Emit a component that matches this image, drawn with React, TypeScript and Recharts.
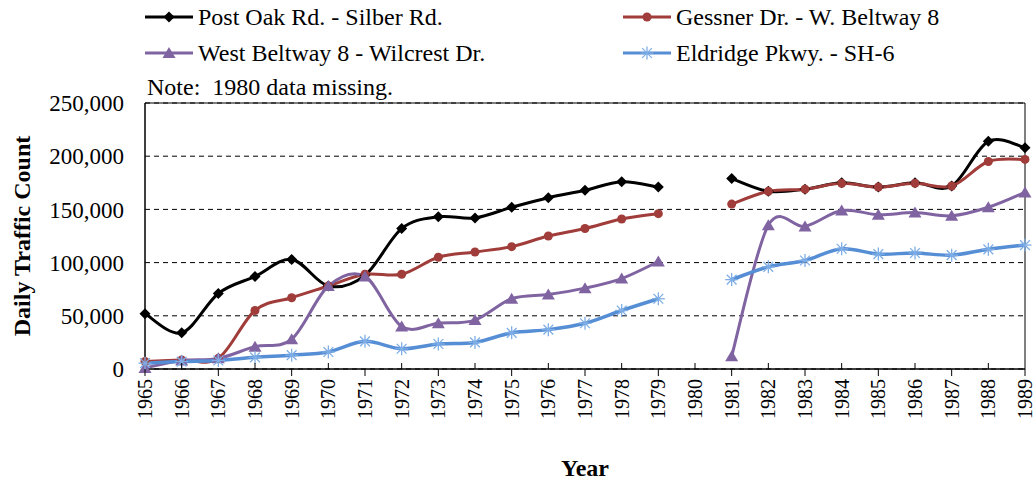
import { LineChart, Line, XAxis, YAxis, CartesianGrid, Legend, ReferenceArea } from 'recharts';

const years = [
  1965, 1966, 1967, 1968, 1969, 1970, 1971, 1972, 1973, 1974, 1975, 1976, 1977,
  1978, 1979, 1980, 1981, 1982, 1983, 1984, 1985, 1986, 1987, 1988, 1989,
];

// 1980 is missing in the source data
const postOak = [
  52000, 34000, 71000, 87000, 103000, 78000, 88000, 132000, 143000, 142000, 152000, 161000, 168000,
  176000, 171000, null, 179000, 167000, 169000, 175000, 171000, 175000, 172000, 214000, 208000,
];
const gessner = [
  7000, 8500, 10000, 55000, 67000, 78000, 89000, 89000, 105000, 110000, 115000, 125000, 132000,
  141000, 146000, null, 155000, 167000, 169000, 174500, 171000, 174500, 172000, 195000, 197000,
];
const westBeltway = [
  1000, 8000, 10000, 21000, 28000, 78000, 87000, 40000, 43000, 46000, 66000, 70000, 76000,
  85000, 101000, null, 12000, 135000, 134000, 149000, 145000, 147000, 144000, 152000, 166000,
];
const eldridge = [
  5500, 7000, 8000, 11000, 13000, 16000, 26000, 19000, 23500, 25000, 34000, 37000, 43000,
  55000, 66000, null, 84000, 96000, 102000, 113000, 108000, 109000, 107000, 112500, 116500,
];

const yTicks = [0, 50000, 100000, 150000, 200000, 250000];

const keys = ['postOak', 'gessner', 'westBeltway', 'eldridge'] as const;

const seriesNames = {
  postOak: 'Post Oak Rd. - Silber Rd.',
  gessner: 'Gessner Dr. - W. Beltway 8',
  westBeltway: 'West Beltway 8 - Wilcrest Dr.',
  eldridge: 'Eldridge Pkwy. - SH-6',
};

const colors = {
  postOak: '#000000',
  gessner: '#A03C39',
  westBeltway: '#8064A2',
  eldridge: '#558ED5',
};

const data = years.map((year, i) => ({
  year,
  postOak: postOak[i],
  gessner: gessner[i],
  westBeltway: westBeltway[i],
  eldridge: eldridge[i],
}));

const FONT = '"Liberation Serif", "Times New Roman", serif';

// Excel-style smoothed line (uniform Catmull-Rom through the points)
const excelSmooth = (context: any) => {
  let pts: [number, number][] = [];
  return {
    areaStart() {},
    areaEnd() {},
    lineStart() {
      pts = [];
    },
    point(x: number, y: number) {
      pts.push([+x, +y]);
    },
    lineEnd() {
      if (!pts.length) return;
      context.moveTo(pts[0][0], pts[0][1]);
      if (pts.length === 1) {
        context.lineTo(pts[0][0], pts[0][1]);
        return;
      }
      for (let i = 0; i < pts.length - 1; i++) {
        const p0 = pts[i - 1] || pts[i];
        const p1 = pts[i];
        const p2 = pts[i + 1];
        const p3 = pts[i + 2] || p2;
        context.bezierCurveTo(
          p1[0] + (p2[0] - p0[0]) / 6,
          p1[1] + (p2[1] - p0[1]) / 6,
          p2[0] - (p3[0] - p1[0]) / 6,
          p2[1] - (p3[1] - p1[1]) / 6,
          p2[0],
          p2[1],
        );
      }
    },
  };
};

function Marker({ kind, cx, cy, color }: { kind: string; cx: number; cy: number; color: string }) {
  if (kind === 'postOak') {
    const s = 5.5;
    return <path d={`M${cx},${cy - s}L${cx + s},${cy}L${cx},${cy + s}L${cx - s},${cy}Z`} fill={color} />;
  }
  if (kind === 'gessner') {
    return <circle cx={cx} cy={cy} r={4.5} fill={color} />;
  }
  if (kind === 'westBeltway') {
    return <path d={`M${cx},${cy - 6}L${cx + 6.5},${cy + 5}L${cx - 6.5},${cy + 5}Z`} fill={color} />;
  }
  const r = 6.5;
  return (
    <g stroke="#7FAEE6" strokeWidth={1.3}>
      <line x1={cx - r} y1={cy} x2={cx + r} y2={cy} />
      <line x1={cx} y1={cy - r} x2={cx} y2={cy + r} />
      <line x1={cx - r * 0.75} y1={cy - r * 0.75} x2={cx + r * 0.75} y2={cy + r * 0.75} />
      <line x1={cx - r * 0.75} y1={cy + r * 0.75} x2={cx + r * 0.75} y2={cy - r * 0.75} />
    </g>
  );
}

const makeDot = (kind: string) => (props: any) => {
  const { cx, cy, index, value } = props;
  if (value == null || cx == null || cy == null || isNaN(cy)) return <g key={`${kind}-${index}`} />;
  return (
    <g key={`${kind}-${index}`}>
      <Marker kind={kind} cx={cx} cy={cy} color={colors[kind as keyof typeof colors]} />
    </g>
  );
};

function YearTick(props: any) {
  const { x, y, payload } = props;
  const odd = payload.value % 2 === 1;
  return (
    <g>
      <line x1={x} x2={x} y1={odd ? y : y - 6} y2={odd ? y + 7 : y} stroke="#000" />
      <text
        transform={`translate(${x},${y + 10}) rotate(-90)`}
        textAnchor="end"
        dominantBaseline="central"
        fontFamily={FONT}
        fontSize={20}
        fill="#000"
      >
        {payload.value}
      </text>
    </g>
  );
}

const textStyle = { fontFamily: FONT, fontSize: 24, color: '#000', whiteSpace: 'pre' as const };

function LegendBox({ payload }: any) {
  const colX = [145, 623];
  const rowY = [17, 53];
  const items = keys.map((k) => (payload || []).find((p: any) => p.dataKey === k)).filter(Boolean);
  return (
    <div style={{ position: 'relative', width: 1036, height: 100 }}>
      {items.map((entry: any, i: number) => {
        const key = entry.dataKey as string;
        const left = colX[i % 2];
        const top = rowY[Math.floor(i / 2)];
        return (
          <div
            key={key}
            style={{ position: 'absolute', left, top: top - 15, height: 30, display: 'flex', alignItems: 'center' }}
          >
            <svg width={48} height={20} style={{ marginRight: 5 }}>
              <line x1={0} x2={48} y1={10} y2={10} stroke={entry.color} strokeWidth={3} />
              <Marker kind={key} cx={24} cy={10} color={entry.color} />
            </svg>
            <span style={textStyle}>{entry.value}</span>
          </div>
        );
      })}
      <div style={{ ...textStyle, position: 'absolute', left: 147, top: 72, height: 30, lineHeight: '30px' }}>
        {'Note:  1980 data missing.'}
      </div>
    </div>
  );
}

export default function App() {
  return (
    <div style={{ position: 'absolute', left: 0, top: 0 }}>
      <LineChart width={1036} height={480} data={data} margin={{ top: 103, right: 11, bottom: 0, left: 0 }}>
        <CartesianGrid vertical={false} stroke="#000" strokeDasharray="5 4" />
        <ReferenceArea x1={1965} x2={1989} y1={0} y2={250000} fill="none" stroke="#000" strokeWidth={1} />
        <XAxis
          dataKey="year"
          type="number"
          domain={[1965, 1989]}
          ticks={years}
          interval={0}
          height={111}
          tickLine={false}
          tickSize={0}
          tickMargin={0}
          axisLine={{ stroke: '#000' }}
          tick={<YearTick />}
          label={{ value: 'Year', position: 'insideBottom', offset: 4, fontFamily: FONT, fontSize: 24, fontWeight: 'bold', fill: '#000' }}
        />
        <YAxis
          domain={[0, 250000]}
          ticks={yTicks}
          width={145}
          tickLine={false}
          tickSize={0}
          tickMargin={21}
          axisLine={{ stroke: '#000' }}
          tick={{ fontFamily: FONT, fontSize: 23, fill: '#000' }}
          tickFormatter={(v: number) => v.toLocaleString('en-US')}
          label={{
            content: ({ viewBox }: any) => (
              <text
                transform={`translate(${viewBox.x + 22},${viewBox.y + viewBox.height / 2}) rotate(-90)`}
                textAnchor="middle"
                dominantBaseline="central"
                fontFamily={FONT}
                fontSize={24}
                fontWeight="bold"
                fill="#000"
              >
                Daily Traffic Count
              </text>
            ),
          }}
        />
        <Legend
          layout="horizontal"
          verticalAlign="middle"
          align="center"
          wrapperStyle={{ position: 'absolute', top: 0, left: 0, width: 1036, height: 100 }}
          content={<LegendBox />}
        />
        {keys.map((k) => (
          <Line
            key={k}
            dataKey={k}
            name={seriesNames[k]}
            stroke={colors[k]}
            strokeWidth={k === 'eldridge' ? 3.5 : 3}
            type={excelSmooth as any}
            dot={makeDot(k)}
            activeDot={false}
            legendType="line"
            isAnimationActive={false}
          />
        ))}
      </LineChart>
    </div>
  );
}
